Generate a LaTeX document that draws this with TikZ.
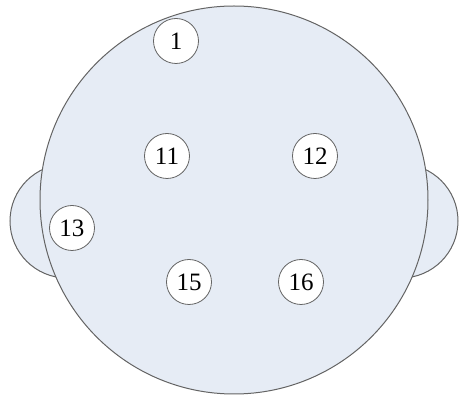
\documentclass[tikz,border=0pt]{standalone}
\usepackage{fontspec}
\setmainfont{Liberation Serif}
\definecolor{headfill}{HTML}{E6ECF5}
\definecolor{edge}{HTML}{646464}
\begin{document}
\begin{tikzpicture}[x=1pt,y=-1pt,
  part/.style={draw=edge,fill=headfill,line width=1pt},
  electrode/.style={circle,draw=edge,fill=white,line width=0.8pt,minimum size=45pt,inner sep=0pt,font=\fontsize{25}{29}\selectfont}]
\useasboundingbox (0,0) rectangle (459,395);
\clip (0,0) rectangle (459,395);
\draw[part] (67,221) circle (57);
\draw[part] (401,221) circle (57);
\draw[part] (234,200) circle (194);
\node[electrode] (e1) at (176,41) {1};
\node[electrode] (e11) at (167,156) {11};
\node[electrode] (e12) at (315,156) {12};
\node[electrode] (e13) at (72,228) {13};
\node[electrode] (e15) at (189,282) {15};
\node[electrode] (e16) at (301,282) {16};
\end{tikzpicture}
\end{document}
